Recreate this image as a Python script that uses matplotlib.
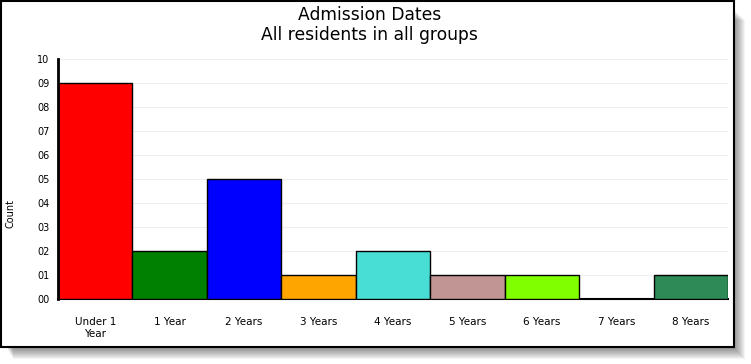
import matplotlib
matplotlib.use("Agg")
import matplotlib.pyplot as plt
from matplotlib.patches import Rectangle

categories = ["Under 1\nYear", "1 Year", "2 Years", "3 Years", "4 Years",
              "5 Years", "6 Years", "7 Years", "8 Years"]
counts = [9, 2, 5, 1, 2, 1, 1, 0, 1]
colors = ["#FF0000", "#008000", "#0000FF", "#FFA500", "#48DED6",
          "#C29595", "#80FF00", "#FFFFFF", "#2E8B57"]
ytick_labels = ["00", "01", "02", "03", "04", "05", "06", "07", "08", "09", "10"]

W, H = 751, 364
fig = plt.figure(figsize=(W / 100, H / 100), dpi=100)
fig.patch.set_facecolor("white")

def fx(px):
    return px / W

def fy(py):
    return 1 - py / H

# soft drop shadow
for i in range(12):
    off = 1 + i
    fig.patches.append(Rectangle((fx(6 + off * 0.6), fy(347 + off)), fx(733 - 6) + fx(off * 0.4),
                                 (347 - 8) / H,
                                 transform=fig.transFigure, facecolor="black",
                                 alpha=0.045, edgecolor="none", zorder=0))
# frame
fig.patches.append(Rectangle((fx(1), fy(347)), fx(733), (346) / H,
                             transform=fig.transFigure, facecolor="white",
                             edgecolor="black", linewidth=1.5, zorder=1))

ax = fig.add_axes([fx(58), fy(299), fx(728) - fx(58), (299 - 59) / H], zorder=2)
ax.set_facecolor("none")
x = list(range(len(categories)))
ax.bar(x, counts, width=1.0, color=colors, edgecolor="black", linewidth=1.0, zorder=3)
ax.set_xlim(-0.5, len(categories) - 0.5)
ax.set_ylim(0, 10)
ax.set_yticks(range(len(ytick_labels)))
ax.set_yticklabels(ytick_labels, fontsize=7)
ax.set_xticks(x)
ax.set_xticklabels(categories, fontsize=7.5, linespacing=1.3)
ax.tick_params(axis="x", length=0, pad=13)
ax.tick_params(axis="y", length=0, pad=6)
ax.grid(axis="y", color="#EEEEEE", linewidth=0.8, zorder=0)
ax.set_axisbelow(True)
for s in ["top", "right"]:
    ax.spines[s].set_visible(False)
ax.spines["left"].set_linewidth(2.0)
ax.spines["bottom"].set_linewidth(1.5)
ax.spines["left"].set_zorder(4)

fig.text(fx(370), fy(15), "Admission Dates", ha="center", va="center", fontsize=12.3)
fig.text(fx(369), fy(35), "All residents in all groups", ha="center", va="center", fontsize=12.3)
fig.text(fx(11), fy(213), "Count", rotation=90, ha="center", va="center", fontsize=7)

fig.savefig("out.png", dpi=100)
